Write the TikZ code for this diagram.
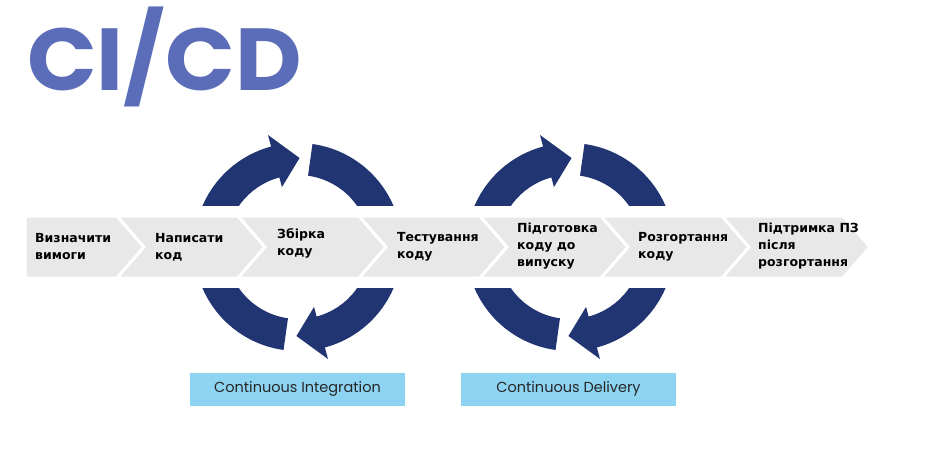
\documentclass[tikz,border=0pt]{standalone}
\usepackage{fontspec}
\setmainfont{DejaVu Sans}
\newfontfamily\titlefont{Poppins}
\definecolor{navy}{HTML}{223573}
\definecolor{band}{HTML}{E8E8E8}
\definecolor{lbl}{HTML}{8DD3F2}
\definecolor{ttl}{HTML}{5B6DB8}
\tikzset{
  chev/.style={fill=band,draw=white,line width=3pt,line join=miter},
  steptext/.style={anchor=west,align=left,font=\bfseries\fontsize{12.5}{17}\selectfont,inner sep=0pt},
  lblbox/.style={fill=lbl,minimum width=215pt,minimum height=33pt,font=\titlefont\fontsize{14.5}{16}\selectfont,text=black!85,inner sep=0pt}
}
\newcommand{\cycleart}[2]{%
  \begin{scope}[shift={(#1,#2)},yscale=-1]
    \fill[navy] (180:104) arc (180:105:104) -- (105:116) -- (89:89) -- (105:62) -- (105:72) arc (105:180:72) -- cycle;
    \fill[navy] (82:104) arc (82:0:104) -- (0:72) arc (0:82:72) -- cycle;
    \fill[navy] (0:104) arc (360:285:104) -- (285:116) -- (269:89) -- (285:62) -- (285:72) arc (285:360:72) -- cycle;
    \fill[navy] (262:104) arc (262:180:104) -- (180:72) arc (180:262:72) -- cycle;
  \end{scope}}
\begin{document}
\begin{tikzpicture}[x=1pt,y=-1pt]
\useasboundingbox (0,0) rectangle (946,450);
\fill[white] (0,0) rectangle (946,450);
\node[font=\titlefont\bfseries\fontsize{88}{88}\selectfont,text=ttl,anchor=west,inner sep=0pt,xscale=1.04] (title) at (27,57) {CI/CD};
\cycleart{298}{247}
\cycleart{570}{247}
\fill[white] (150,206) rectangle (720,288);
\fill[chev] (25,216) -- (117,216) -- (144,247) -- (117,278) -- (25,278) -- cycle;
\foreach \i in {0,...,5}{
  \pgfmathsetmacro{\xo}{117+121*\i}
  \fill[chev] (\xo,216) -- (\xo+121,216) -- (\xo+148,247) -- (\xo+121,278) -- (\xo,278) -- (\xo+27,247) -- cycle;
}
\node[steptext] (s1) at (35,247) {Визначити\\вимоги};
\node[steptext] (s2) at (155,247) {Написати\\код};
\node[steptext] (s3) at (277,243) {Збірка\\коду};
\node[steptext] (s4) at (397,247) {Тестування\\коду};
\node[steptext] (s5) at (517,246) {Підготовка\\коду до\\випуску};
\node[steptext] (s6) at (638,247) {Розгортання\\коду};
\node[steptext] (s7) at (758,246) {Підтримка ПЗ\\після\\розгортання};
\node[lblbox] (ci) at (297.5,389) {Continuous Integration};
\node[lblbox] (cd) at (568.5,389) {Continuous Delivery};
\end{tikzpicture}
\end{document}
